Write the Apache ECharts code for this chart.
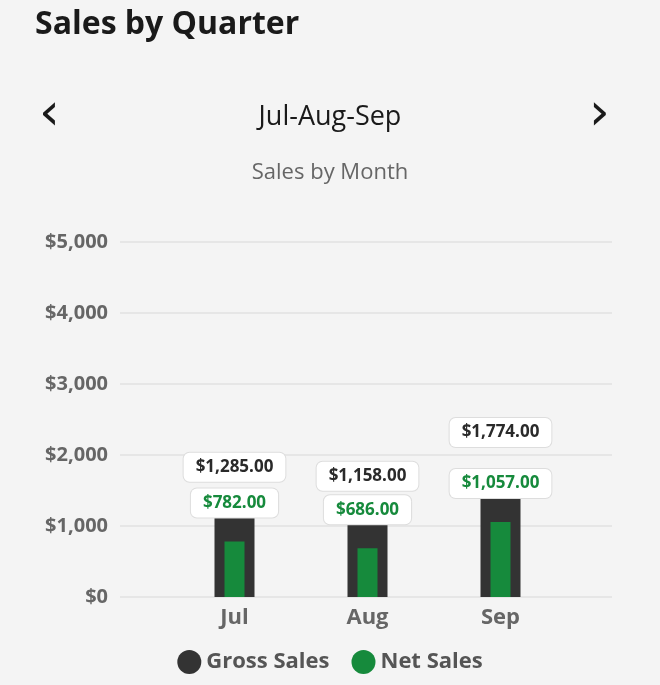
<!DOCTYPE html>
<html lang="en">
<head>
<meta charset="UTF-8">
<title>Sales by Quarter</title>
<script src="https://cdn.jsdelivr.net/npm/echarts@6/dist/echarts.min.js"></script>
<style>
    html, body { margin: 0; padding: 0; background: #f4f4f4; }
    #main { width: 660px; height: 685px; }
</style>
</head>
<body>
<div id="main"></div>
<script>
var months = ['Jul', 'Aug', 'Sep'];
var grossSales = [1285, 1158, 1774];
var netSales = [782, 686, 1057];
var yTicks = [0, 1000, 2000, 3000, 4000, 5000];

var FONT = 'Open Sans';

function money(v) {
    return '$' + v.toLocaleString('en-US', { minimumFractionDigits: 2, maximumFractionDigits: 2 });
}
function moneyTick(v) {
    return '$' + v.toLocaleString('en-US');
}

var labelBase = {
    show: true,
    position: 'top',
    distance: 24,
    fontSize: 17,
    fontWeight: 'bold',
    fontFamily: FONT,
    backgroundColor: '#ffffff',
    borderColor: '#dddddd',
    borderWidth: 1,
    borderRadius: 6,
    padding: [6, 12],
    formatter: function (p) { return money(p.value); }
};

var chart = echarts.init(document.getElementById('main'));
chart.setOption({
    backgroundColor: '#f4f4f4',
    animation: false,
    title: [
        { text: 'Sales by Quarter', left: 30, top: 4, textStyle: { fontSize: 32, fontWeight: 'bold', color: '#1a1a1a', fontFamily: FONT } },
        { text: '‹', left: 34, top: 84, textStyle: { fontSize: 52, fontWeight: 'normal', color: '#1a1a1a', fontFamily: 'DejaVu Sans' } },
        { text: '›', left: 584, top: 84, textStyle: { fontSize: 52, fontWeight: 'normal', color: '#1a1a1a', fontFamily: 'DejaVu Sans' } },
        { text: 'Jul-Aug-Sep', left: 'center', top: 99, textStyle: { fontSize: 27, fontWeight: 'normal', color: '#1a1a1a', fontFamily: FONT } },
        { text: 'Sales by Month', left: 'center', top: 157, textStyle: { fontSize: 22, fontWeight: 'normal', color: '#666666', fontFamily: FONT } }
    ],
    legend: {
        bottom: 6,
        left: 'center',
        icon: 'circle',
        itemWidth: 24,
        itemHeight: 24,
        itemGap: 22,
        textStyle: { fontSize: 22, fontWeight: 'bold', color: '#555555', fontFamily: FONT },
        data: ['Gross Sales', 'Net Sales']
    },
    grid: [
        { left: 168, right: 93, top: 242, bottom: 88 },
        { left: 120, right: 48, top: 242, bottom: 88 }
    ],
    xAxis: [
        {
            type: 'category', gridIndex: 0, data: months,
            axisLine: { show: false }, axisTick: { show: false },
            axisLabel: { fontSize: 22, fontWeight: 'bold', color: '#666666', fontFamily: FONT, margin: 10 }
        },
        { type: 'category', gridIndex: 0, data: months, show: false },
        { type: 'category', gridIndex: 1, data: [''], show: false }
    ],
    yAxis: [
        { type: 'value', gridIndex: 0, min: 0, max: 5000, interval: 1000, show: false },
        {
            type: 'value', gridIndex: 1, min: 0, max: 5000, interval: 1000,
            axisLine: { show: false }, axisTick: { show: false },
            splitLine: { lineStyle: { color: '#e2e2e2', width: 1.5 } },
            axisLabel: {
                fontSize: 20, fontWeight: 'bold', color: '#666666', fontFamily: FONT, margin: 12,
                formatter: function (v) { return yTicks.indexOf(v) >= 0 ? moneyTick(v) : ''; }
            }
        }
    ],
    series: [
        {
            name: 'Gross Sales', type: 'bar', xAxisIndex: 0, yAxisIndex: 0,
            barWidth: 40, data: grossSales,
            itemStyle: { color: '#333333' },
            label: Object.assign({}, labelBase, { color: '#2a2a2a' }),
            z: 2
        },
        {
            name: 'Net Sales', type: 'bar', xAxisIndex: 1, yAxisIndex: 0,
            barWidth: 20, data: netSales,
            itemStyle: { color: '#168a3c' },
            label: Object.assign({}, labelBase, { color: '#168a3c' }),
            z: 3
        }
    ]
});
</script>
</body>
</html>
